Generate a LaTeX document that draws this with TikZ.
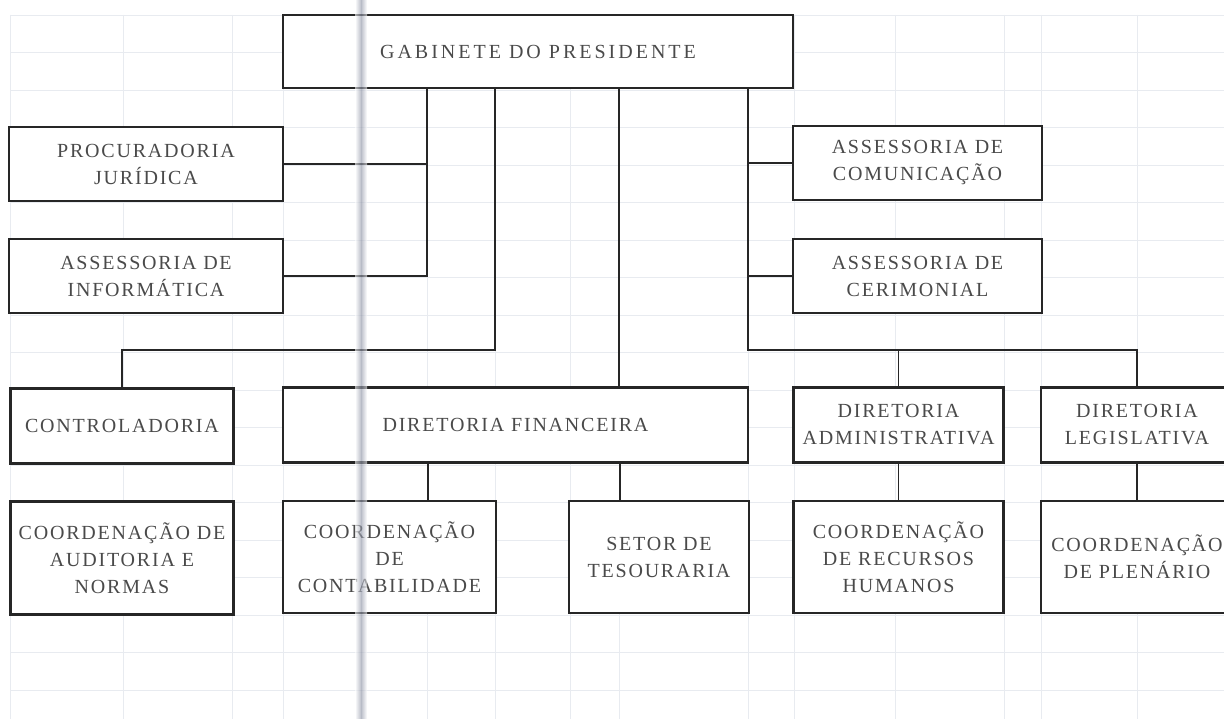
\documentclass[tikz,border=0pt]{standalone}
\usepackage{fontspec}
\setmainfont{Liberation Serif}[LetterSpace=9.0]
\newfontfamily\gabfont{Liberation Serif}[LetterSpace=15.0]
\definecolor{gridc}{HTML}{E8EBF0}
\definecolor{boxc}{HTML}{262626}
\definecolor{txtc}{HTML}{4A4A4A}
\definecolor{bandc}{HTML}{8E94A6}
\tikzset{
  orgbox/.style={draw=boxc, line width=2.3pt, fill=white, inner sep=0pt, align=center,
                 text=txtc, font=\fontsize{20}{27}\selectfont},
  link/.style={draw=boxc, line width=1.3pt},
  gridline/.style={draw=gridc, line width=0.9pt}
}
\begin{document}
\begin{tikzpicture}[x=1pt,y=-1pt]
\useasboundingbox (0,0) rectangle (1224,719);
\fill[white] (0,0) rectangle (1224,719);
% spreadsheet grid
\foreach \k in {0,...,18} \draw[gridline] (10,15+37.5*\k) -- (1224,15+37.5*\k);
\foreach \x in {10,123,232,283,427,495,570,619,748,794,895,1004,1041,1137} \draw[gridline] (\x,15) -- (\x,719);

% boxes
\node[orgbox, minimum width=510pt, minimum height=73pt, font=\gabfont\fontsize{20}{27}\selectfont] (gab) at (538,51.5) {GABINETE DO PRESIDENTE};
\node[orgbox, minimum width=274pt, minimum height=74pt] (proc) at (146,164) {PROCURADORIA\\JURÍDICA};
\node[orgbox, minimum width=274pt, minimum height=74pt] (info) at (146,276) {ASSESSORIA DE\\INFORMÁTICA};
\node[orgbox, minimum width=249pt, minimum height=74pt] (comu) at (917.5,163) {ASSESSORIA DE\\COMUNICAÇÃO};
\node[orgbox, minimum width=249pt, minimum height=74pt] (ceri) at (917.5,276) {ASSESSORIA DE\\CERIMONIAL};
\node[orgbox, minimum width=223pt, minimum height=75pt] (ctrl) at (122,426) {CONTROLADORIA};
\node[orgbox, minimum width=465pt, minimum height=75pt] (fin) at (515.5,425) {DIRETORIA FINANCEIRA};
\node[orgbox, minimum width=210pt, minimum height=75pt] (adm) at (898.5,425) {DIRETORIA\\ADMINISTRATIVA};
\node[orgbox, minimum width=192pt, minimum height=75pt] (leg) at (1137,425) {DIRETORIA\\LEGISLATIVA};
\node[orgbox, minimum width=223pt, minimum height=113pt] (aud) at (122,558) {COORDENAÇÃO DE\\AUDITORIA E\\NORMAS};
\node[orgbox, minimum width=213pt, minimum height=112pt] (cont) at (389.5,557) {COORDENAÇÃO\\DE\\CONTABILIDADE};
\node[orgbox, minimum width=180pt, minimum height=112pt] (tes) at (659,557) {SETOR DE\\TESOURARIA};
\node[orgbox, minimum width=210pt, minimum height=112pt] (rh) at (898.5,557) {COORDENAÇÃO\\DE RECURSOS\\HUMANOS};
\node[orgbox, minimum width=192pt, minimum height=112pt] (plen) at (1137,557) {COORDENAÇÃO\\DE PLENÁRIO};

% connectors
\coordinate (jl) at (427,276);
\coordinate (jlp) at (427,164);
\coordinate (jc) at (495,350);
\coordinate (jr) at (748,350);
\coordinate (jrc) at (748,163);
\coordinate (jre) at (748,276);
\draw[link] (gab.south -| jl) -- (jl) -- (info.east);
\draw[link] (jlp) -- (proc.east);
\draw[link] (gab.south -| jc) -- (jc) -| (ctrl.north);
\draw[link] (gab.south -| 619,0) -- (fin.north -| 619,0);
\draw[link] (gab.south -| jr) -- (jr) -| (leg.north);
\draw[link] (jrc) -- (comu.west);
\draw[link] (jre) -- (ceri.west);
\draw[link] (adm.north) -- (adm.north |- jr);
\draw[link] (fin.south -| 428,0) -- (cont.north -| 428,0);
\draw[link] (fin.south -| 620,0) -- (tes.north -| 620,0);
\draw[link] (adm.south) -- (rh.north);
\draw[link] (leg.south) -- (plen.north);

% scan band
\shade[left color=white, right color=bandc, opacity=0.6] (355,0) rectangle (361,719);
\shade[left color=bandc, right color=white, opacity=0.6] (361,0) rectangle (367,719);
\end{tikzpicture}
\end{document}
